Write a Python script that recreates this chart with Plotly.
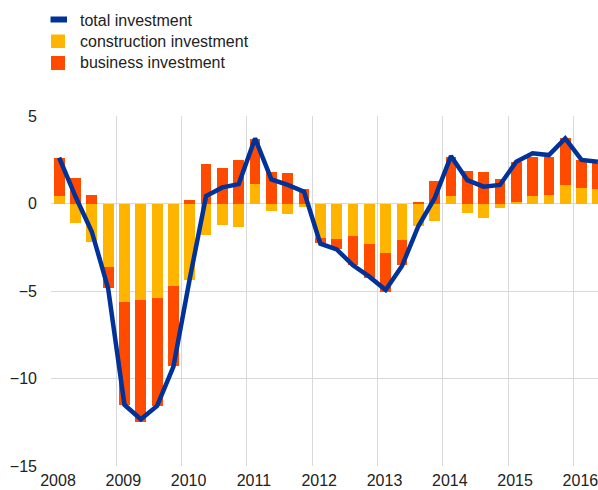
import plotly.graph_objects as go

# Quarterly contributions, 2008 Q1 - 2016 Q2 (percentage points)
years = [2008, 2009, 2010, 2011, 2012, 2013, 2014, 2015, 2016]
quarters_per_year = [4, 4, 4, 4, 4, 4, 4, 4, 2]

construction = [0.43, -1.10, -2.22, -3.61,
                -5.65, -5.53, -5.42, -4.70,
                -4.37, -1.78, -1.21, -1.37,
                1.11, -0.41, -0.62, -0.20,
                -1.99, -2.03, -1.86, -2.31,
                -2.83, -2.07, -1.27, -1.02,
                0.43, -0.54, -0.85, -0.26,
                0.07, 0.43, 0.49, 1.06,
                0.87, 0.83]

business = [2.19, 1.44, 0.49, -1.20,
            -5.86, -6.94, -6.13, -4.57,
            0.22, 2.24, 2.03, 2.49,
            2.56, 1.80, 1.72, 0.81,
            -0.29, -0.59, -1.65, -1.97,
            -2.21, -1.44, 0.09, 1.29,
            2.25, 1.84, 1.78, 1.38,
            2.32, 2.25, 2.19, 2.66,
            1.62, 1.47]

total = [2.62, 0.40, -1.61, -4.85,
         -11.50, -12.33, -11.57, -9.32,
         -4.30, 0.43, 0.92, 1.11,
         3.72, 1.38, 1.06, 0.68,
         -2.30, -2.62, -3.53, -4.18,
         -4.94, -3.57, -1.30, 0.30,
         2.71, 1.34, 0.96, 1.06,
         2.39, 2.87, 2.77, 3.72,
         2.49, 2.39]

series_names = ["total investment", "construction investment", "business investment"]

# each quarter sits in the middle of its quarter-year slot
x = []
for yr, nq in zip(years, quarters_per_year):
    for q in range(nq):
        x.append(yr + q / 4 + 0.125)

BLUE = "#003299"
YELLOW = "#FFB400"
ORANGE = "#FF4B00"
GRID = "#d9d9d9"
TEXT = "#222222"
FONT = "Liberation Sans, Arial, sans-serif"

fig = go.Figure()
fig.add_trace(go.Bar(x=x, y=construction, name=series_names[1],
                     marker=dict(color=YELLOW, line=dict(width=0)), width=0.165))
fig.add_trace(go.Bar(x=x, y=business, name=series_names[2],
                     marker=dict(color=ORANGE, line=dict(width=0)), width=0.165))
fig.add_trace(go.Scatter(x=x, y=total, name=series_names[0], mode="lines",
                         line=dict(color=BLUE, width=4.5)))

# compact legend above the plot, drawn in paper coordinates
L, R, T, B = 51, 0, 116, 24
W, H = 598, 490
pw, ph = W - L - R, H - T - B


def px(xp):
    return (xp - L) / pw


def py(yp):
    return (H - B - yp) / ph


legend_rows = [
    (series_names[0], BLUE, 16.5, 22.5, 20),
    (series_names[1], YELLOW, 34.5, 48, 41.5),
    (series_names[2], ORANGE, 56, 70, 63),
]
shapes = []
annotations = []
for name, col, y0, y1, yc in legend_rows:
    x0, x1 = (50.5, 67) if col == BLUE else (51, 65)
    shapes.append(dict(type="rect", xref="paper", yref="paper",
                       x0=px(x0), x1=px(x1), y0=py(y1), y1=py(y0),
                       fillcolor=col, line=dict(width=0), layer="above"))
    annotations.append(dict(text=name, xref="paper", yref="paper",
                            x=px(78), y=py(yc), xanchor="left", yanchor="middle",
                            showarrow=False, font=dict(size=16, color=TEXT, family=FONT)))

fig.update_layout(
    width=W, height=H,
    margin=dict(l=L, r=R, t=T, b=B, pad=0, autoexpand=False),
    barmode="relative",
    bargap=0,
    showlegend=False,
    plot_bgcolor="white",
    paper_bgcolor="white",
    font=dict(family=FONT, size=16, color=TEXT),
    shapes=shapes,
    annotations=annotations,
)
fig.update_xaxes(
    range=[2008, 2016.377],
    tickmode="array",
    tickvals=years,
    ticktext=[str(y) for y in years],
    ticklabelshift=7,
    ticklabelstandoff=3,
    ticklabeloverflow="allow",
    automargin=False,
    showgrid=True, gridcolor=GRID, gridwidth=1,
    zeroline=False, showline=False, ticks="",
    tickfont=dict(size=16, color=TEXT),
)
fig.update_yaxes(
    range=[-15, 5],
    tickmode="array",
    tickvals=[-15, -10, -5, 0, 5],
    automargin=False,
    showgrid=True, gridcolor=GRID, gridwidth=1,
    zeroline=True, zerolinecolor=GRID, zerolinewidth=1,
    showline=False, ticks="",
    ticklabelstandoff=13,
    tickfont=dict(size=16, color=TEXT),
)

fig.write_html("out.html")
